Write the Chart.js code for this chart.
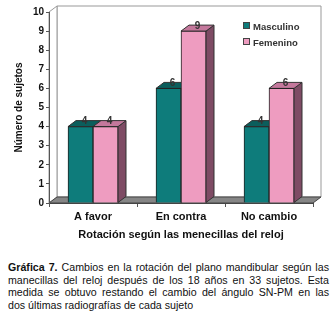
<!DOCTYPE html>
<html>
<head>
<meta charset="utf-8">
<script src="https://cdn.jsdelivr.net/npm/chart.js@4"></script>
<style>
  body { margin: 0; background: #fff; width: 332px; height: 317px; position: relative; overflow: hidden; }
  #chart { position: absolute; left: 0; top: 0; }
  .leg { position: absolute; font: bold 9.5px "Liberation Sans", Arial, sans-serif; color: #333; line-height: 10px; }
  .leg i { display: inline-block; width: 5px; height: 5px; margin-right: 3px; vertical-align: 1px; border: 0.5px solid #444; }
  #caption { position: absolute; left: 8px; top: 261px; width: 321px; font: 10.65px "Liberation Sans", Arial, sans-serif;
             line-height: 12.6px; color: #111; margin: 0; }
  #caption div { text-align: justify; text-align-last: justify; white-space: nowrap; }
  #caption div:last-child { text-align-last: left; }
</style>
</head>
<body>
<canvas id="chart" width="332" height="250"></canvas>
<div class="leg" style="left:243px; top:22px;"><i style="background:#0e7c7b"></i>Masculino</div>
<div class="leg" style="left:243px; top:38px;"><i style="background:#ee9cc0"></i>Femenino</div>
<div id="caption">
  <div><b>Gráfica 7.</b> Cambios en la rotación del plano mandibular según las</div>
  <div>manecillas del reloj después de los 18 años en 33 sujetos. Esta</div>
  <div>medida se obtuvo restando el cambio del ángulo SN-PM en las</div>
  <div>dos últimas radiografías de cada sujeto</div>
</div>
<script>
// datos
const categorias = ['A favor', 'En contra', 'No cambio'];
const masculino = [4, 6, 4];
const femenino = [4, 9, 6];
const yTicks = [0, 1, 2, 3, 4, 5, 6, 7, 8, 9, 10];

// profundidad del efecto 3D
const DX = 8, DY = -6;

// caras laterales y superiores de cada barra
const caras = {
  top: ['#0b5e5c', '#c4789c'],
  side: ['#0a4f4d', '#7e4b64']
};

function poly(ctx, pts, fill, stroke) {
  ctx.beginPath();
  ctx.moveTo(pts[0][0], pts[0][1]);
  for (let i = 1; i < pts.length; i++) ctx.lineTo(pts[i][0], pts[i][1]);
  ctx.closePath();
  ctx.fillStyle = fill;
  ctx.fill();
  if (stroke) { ctx.strokeStyle = stroke; ctx.lineWidth = 1; ctx.stroke(); }
}

const tresD = {
  id: 'tresD',
  beforeDraw(chart) {
    const { ctx, chartArea: a } = chart;
    ctx.save();
    // pared del fondo
    poly(ctx, [[a.left + DX, a.top + DY], [a.right + DX, a.top + DY], [a.right + DX, a.bottom + DY], [a.left + DX, a.bottom + DY]], '#fff', '#999');
    // pared izquierda
    poly(ctx, [[a.left, a.top], [a.left + DX, a.top + DY], [a.left + DX, a.bottom + DY], [a.left, a.bottom]], '#fff', '#999');
    // piso
    poly(ctx, [[a.left, a.bottom], [a.left + DX, a.bottom + DY], [a.right + DX, a.bottom + DY], [a.right, a.bottom]], '#868686', '#444');
    ctx.restore();
  },
  beforeDatasetsDraw(chart) {
    const { ctx } = chart;
    ctx.save();
    chart.data.datasets.forEach((ds, di) => {
      chart.getDatasetMeta(di).data.forEach(bar => {
        const l = bar.x - bar.width / 2, r = bar.x + bar.width / 2;
        const t = bar.y, b = bar.base;
        poly(ctx, [[r, t], [r + DX, t + DY], [r + DX, b + DY], [r, b]], caras.side[di], '#333');
        poly(ctx, [[l, t], [l + DX, t + DY], [r + DX, t + DY], [r, t]], caras.top[di], '#333');
      });
    });
    ctx.restore();
  },
  afterDatasetsDraw(chart) {
    const { ctx } = chart;
    ctx.save();
    ctx.font = 'bold 10px "Liberation Sans", Arial, sans-serif';
    ctx.fillStyle = '#333';
    ctx.textAlign = 'center';
    ctx.textBaseline = 'middle';
    chart.data.datasets.forEach((ds, di) => {
      chart.getDatasetMeta(di).data.forEach((bar, i) => {
        ctx.fillText(ds.data[i], bar.x + 4, bar.y - 5);
      });
    });
    ctx.restore();
  }
};

new Chart(document.getElementById('chart'), {
  type: 'bar',
  data: {
    labels: categorias,
    datasets: [
      { label: 'Masculino', data: masculino, backgroundColor: '#0e7c7b', borderColor: '#222', borderWidth: 1, barThickness: 25 },
      { label: 'Femenino', data: femenino, backgroundColor: '#ee9cc0', borderColor: '#222', borderWidth: 1, barThickness: 25 }
    ]
  },
  options: {
    responsive: false,
    animation: false,
    layout: { padding: { top: 12, right: 19, left: 0, bottom: 0 } },
    plugins: { legend: { display: false }, tooltip: { enabled: false } },
    scales: {
      x: {
        afterFit: s => { s.height = 47; },
        grid: { drawOnChartArea: false, tickLength: 4, color: '#555', offset: true },
        border: { color: '#444' },
        ticks: { color: '#111', padding: 3, font: { family: '"Liberation Sans", Arial', size: 11, weight: 'bold' } },
        title: { display: true, text: 'Rotación según las menecillas del reloj', color: '#111',
                 padding: { top: 0, bottom: 8 }, font: { family: '"Liberation Sans", Arial', size: 11, weight: 'bold' } }
      },
      y: {
        min: 0, max: 10,
        afterFit: s => { s.width = 49; },
        afterBuildTicks: s => { s.ticks = yTicks.map(v => ({ value: v })); },
        grid: { drawOnChartArea: false, tickLength: 3, color: '#555' },
        border: { color: '#555' },
        ticks: { color: '#111', padding: 2, font: { family: '"Liberation Sans", Arial', size: 10, weight: 'bold' } },
        title: { display: true, text: 'Número de sujetos', color: '#111',
                 padding: { top: 13, bottom: 0 }, font: { family: '"Liberation Sans", Arial', size: 10, weight: 'bold' } }
      }
    }
  },
  plugins: [tresD]
});
</script>
</body>
</html>
